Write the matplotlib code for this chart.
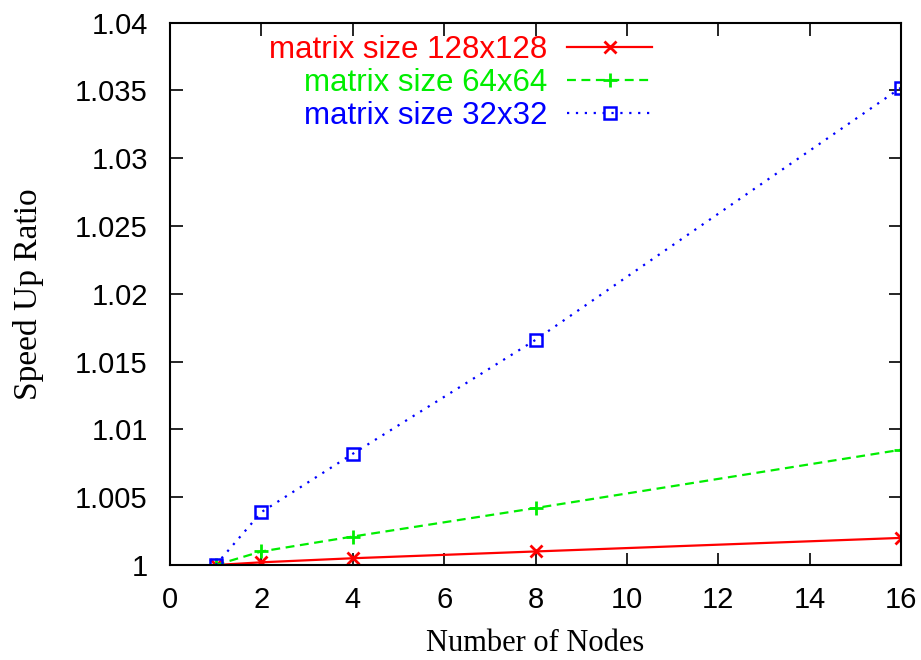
import numpy as np
import matplotlib.pyplot as plt
from matplotlib.ticker import FuncFormatter

# data
nodes = [1, 2, 4, 8, 16]
speedup_128 = [1.0, 1.0002, 1.0005, 1.0010, 1.0020]
speedup_64 = [1.0, 1.0010, 1.0021, 1.0042, 1.0085]
speedup_32 = [1.0, 1.0039, 1.0082, 1.0166, 1.0352]
labels = ['matrix size 128x128', 'matrix size 64x64', 'matrix size 32x32']

fs = 21
serif = ['Liberation Serif', 'DejaVu Serif']
sans = ['Liberation Sans', 'DejaVu Sans']

fig = plt.figure(figsize=(9.21, 6.6), dpi=100)
ax = fig.add_axes([0.1846, 0.1439, 0.7937, 0.8220])

ax.plot(nodes, speedup_128, color='#ff0000', lw=1.6, ls='-', marker='x',
        ms=9, mew=2, label=labels[0])
ax.plot(nodes, speedup_64, color='#00ee00', lw=1.6, ls=(0, (4, 2.5)), marker='+',
        ms=10, mew=2, label=labels[1])
ax.plot(nodes, speedup_32, color='#0000ff', lw=1.6, ls=(0, (1, 3)), marker='s',
        ms=8, mew=1.8, mfc='none', label=labels[2])

ax.set_xlim(0, 16)
ax.set_ylim(1.0, 1.04)
ax.set_xticks(np.arange(0, 17, 2))
ax.set_yticks(np.arange(1.0, 1.0401, 0.005))
ax.yaxis.set_major_formatter(FuncFormatter(lambda v, p: '%g' % round(v, 4)))

ax.tick_params(direction='in', length=9, width=1.2, top=True, right=True,
               labelsize=fs)
ax.tick_params(axis='y', pad=16)
ax.tick_params(axis='x', pad=15)
for t in ax.get_xticklabels() + ax.get_yticklabels():
    t.set_family(sans)
for s in ax.spines.values():
    s.set_linewidth(1.5)

ax.set_xlabel('Number of Nodes', fontsize=22, family=serif, labelpad=11)
ax.set_ylabel('Speed Up Ratio', fontsize=24, family=serif, labelpad=22)

leg = ax.legend(loc='upper right', bbox_to_anchor=(0.66, 0.977), frameon=False,
                markerfirst=False, borderaxespad=0, borderpad=0,
                handlelength=2.72, handletextpad=0.64, labelspacing=0.09,
                numpoints=1, prop={'family': sans, 'size': 22.5})
for t, h in zip(leg.get_texts(), leg.legend_handles):
    t.set_color(h.get_color())

plt.savefig('out.png', dpi=100)
